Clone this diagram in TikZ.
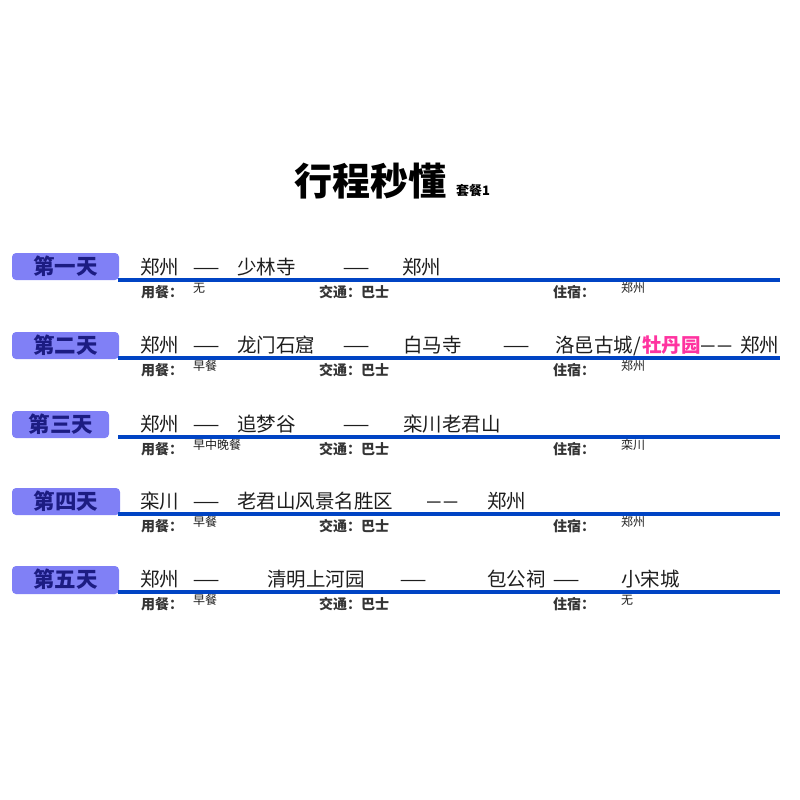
\documentclass[tikz,border=0pt]{standalone}
\usepackage{fontspec}
\setmainfont{Noto Sans CJK SC}
\newfontfamily\dashfont{Liberation Sans}
\definecolor{boxfill}{RGB}{128,128,246}
\definecolor{boxtext}{RGB}{28,28,130}
\definecolor{linecol}{RGB}{0,68,196}
\definecolor{pinkcol}{RGB}{255,51,160}
\definecolor{txtcol}{RGB}{30,30,30}
\tikzset{
  daybox/.style={fill=boxfill,rounded corners=4pt},
  daytext/.style={font=\fontsize{21.5}{22}\selectfont\bfseries,text=boxtext,inner sep=0pt},
  route/.style={font=\fontsize{19.5}{20}\selectfont,text=txtcol,anchor=base west,inner sep=0pt},
  sublabel/.style={font=\fontsize{14}{14}\selectfont\bfseries,text=txtcol!90,anchor=west,inner sep=0pt},
  subval/.style={font=\fontsize{12}{12}\selectfont,text=txtcol,anchor=west,inner sep=0pt},
  rule/.style={draw=linecol,line width=4pt}
}
\newcommand{\jd}{\raisebox{0.5pt}{\scalebox{0.8}[1]{——}}}
\newcommand{\sd}{\raisebox{1.5pt}{\scalebox{1.25}[1]{\dashfont –\kern2.5pt–}}}
\begin{document}
\begin{tikzpicture}[x=1pt,y=-1pt]
\useasboundingbox (0,0) rectangle (800,800);
% title
\node[inner sep=0pt,anchor=west,font=\fontsize{38}{38}\selectfont\bfseries] (title) at (294,181) {行程秒懂};
\node[inner sep=0pt,anchor=west,font=\fontsize{13}{13}\selectfont\bfseries] (sub) at (456,191) {套餐1};

% ---------- Day 1 (line y = 280)
\fill[daybox] (12,253) rectangle (119,280);
\node[daytext] (d1) at (65.5,266.5) {第一天};
\coordinate (l1a) at (118,280); \coordinate (l1b) at (780,280);
\draw[rule] (l1a) -- (l1b);
\node[route] (r1a) at (140,274.5) {郑州};
\node[route] (r1b) at (193,274.5) {\jd};
\node[route] (r1c) at (237,274.5) {少林寺};
\node[route] (r1d) at (343,274.5) {\jd};
\node[route] (r1e) at (402,274.5) {郑州};
\node[sublabel] (m1) at (141,292) {用餐：};
\node[subval] (m1v) at (193,288) {无};
\node[sublabel] (t1) at (319,292) {交通：巴士};
\node[sublabel] (s1) at (553,292) {住宿：};
\node[subval] (s1v) at (621,288) {郑州};

% ---------- Day 2 (line y = 358)
\fill[daybox] (12,332) rectangle (119,359);
\node[daytext] (d2) at (65.5,345) {第二天};
\coordinate (l2a) at (118,358); \coordinate (l2b) at (780,358);
\draw[rule] (l2a) -- (l2b);
\node[route] (r2a) at (140,352.5) {郑州};
\node[route] (r2b) at (193,352.5) {\jd};
\node[route] (r2c) at (237,352.5) {龙门石窟};
\node[route] (r2d) at (343,352.5) {\jd};
\node[route] (r2e) at (403,352.5) {白马寺};
\node[route] (r2f) at (503,352.5) {\jd};
\node[route] (r2g) at (555,352.5) {洛邑古城/};
\node[route,text=pinkcol,font=\fontsize{19.5}{20}\selectfont\bfseries] (r2h) at (642,352.5) {牡丹园};
\node[route] (r2i) at (701,352.5) {\sd};
\node[route] (r2j) at (740,352.5) {郑州};
\node[sublabel] (m2) at (141,370) {用餐：};
\node[subval] (m2v) at (193,366) {早餐};
\node[sublabel] (t2) at (319,370) {交通：巴士};
\node[sublabel] (s2) at (553,370) {住宿：};
\node[subval] (s2v) at (621,366) {郑州};

% ---------- Day 3 (line y = 437)
\fill[daybox] (12,411) rectangle (109,438);
\node[daytext] (d3) at (61,424) {第三天};
\coordinate (l3a) at (118,437); \coordinate (l3b) at (780,437);
\draw[rule] (l3a) -- (l3b);
\node[route] (r3a) at (140,431.5) {郑州};
\node[route] (r3b) at (193,431.5) {\jd};
\node[route] (r3c) at (237,431.5) {追梦谷};
\node[route] (r3d) at (343,431.5) {\jd};
\node[route] (r3e) at (403,431.5) {栾川老君山};
\node[sublabel] (m3) at (141,449) {用餐：};
\node[subval] (m3v) at (193,445) {早中晚餐};
\node[sublabel] (t3) at (319,449) {交通：巴士};
\node[sublabel] (s3) at (553,449) {住宿：};
\node[subval] (s3v) at (621,445) {栾川};

% ---------- Day 4 (line y = 514)
\fill[daybox] (12,488) rectangle (120,515);
\node[daytext] (d4) at (66,501) {第四天};
\coordinate (l4a) at (118,514); \coordinate (l4b) at (780,514);
\draw[rule] (l4a) -- (l4b);
\node[route] (r4a) at (140,508.5) {栾川};
\node[route] (r4b) at (193,508.5) {\jd};
\node[route] (r4c) at (237,508.5) {老君山风景名胜区};
\node[route] (r4d) at (427,508.5) {\sd};
\node[route] (r4e) at (487,508.5) {郑州};
\node[sublabel] (m4) at (141,526) {用餐：};
\node[subval] (m4v) at (193,522) {早餐};
\node[sublabel] (t4) at (319,526) {交通：巴士};
\node[sublabel] (s4) at (553,526) {住宿：};
\node[subval] (s4v) at (621,522) {郑州};

% ---------- Day 5 (line y = 592)
\fill[daybox] (12,566) rectangle (119,594);
\node[daytext] (d5) at (65.5,579) {第五天};
\coordinate (l5a) at (118,592); \coordinate (l5b) at (780,592);
\draw[rule] (l5a) -- (l5b);
\node[route] (r5a) at (140,586.5) {郑州};
\node[route] (r5b) at (193,586.5) {\jd};
\node[route] (r5c) at (267,586.5) {清明上河园};
\node[route] (r5d) at (400,586.5) {\jd};
\node[route] (r5e) at (487,586.5) {包公祠};
\node[route] (r5f) at (553,586.5) {\jd};
\node[route] (r5g) at (621,586.5) {小宋城};
\node[sublabel] (m5) at (141,604) {用餐：};
\node[subval] (m5v) at (193,600) {早餐};
\node[sublabel] (t5) at (319,604) {交通：巴士};
\node[sublabel] (s5) at (553,604) {住宿：};
\node[subval] (s5v) at (621,600) {无};
\end{tikzpicture}
\end{document}
